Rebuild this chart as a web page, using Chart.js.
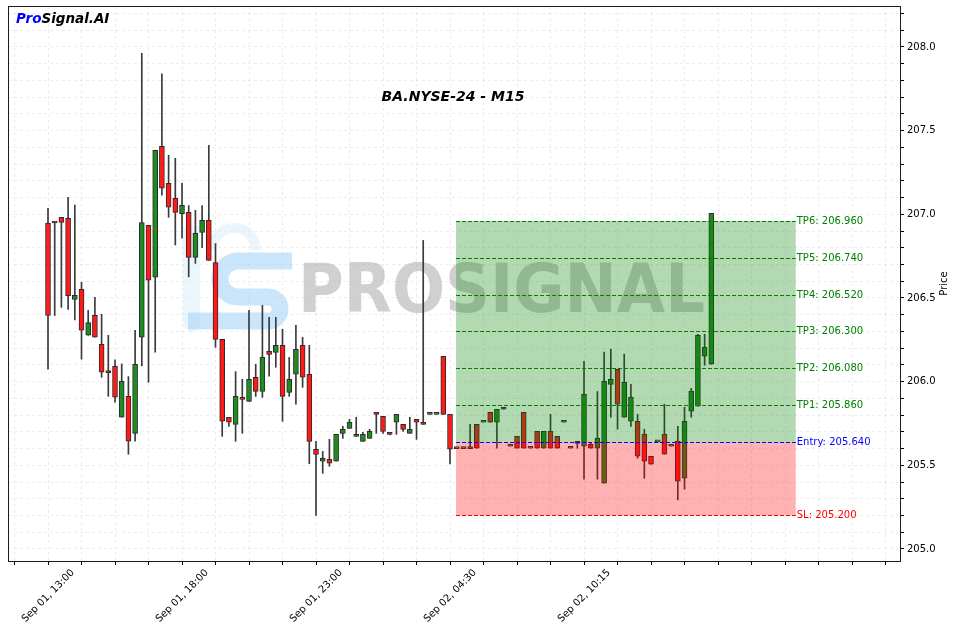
<!DOCTYPE html>
<html lang="en">
<head>
<meta charset="UTF-8">
<title>BA.NYSE-24 - M15</title>
<script src="https://cdn.jsdelivr.net/npm/chart.js"></script>
<style>
    html, body { margin: 0; padding: 0; background: #fff; }
    #wrap { width: 956px; height: 631px; }
</style>
</head>
<body>
<div id="wrap"><canvas id="priceChart" width="956" height="631"></canvas></div>
<script>
// 15-minute candles, index 0 = Sep 01 13:00 (gaps in trading time are skipped)
const opens = [
    206.948, 206.950, 206.982, 206.976, 206.492, 206.552, 206.277, 206.397, 206.223, 206.056,
    206.092, 205.787, 205.912, 205.691, 206.265, 206.934, 206.624, 207.407, 207.185, 207.096,
    207.004, 207.012, 206.743, 206.892, 206.964, 206.711, 206.253, 205.787, 205.745, 205.906,
    205.882, 206.026, 205.942, 206.181, 206.175, 206.217, 205.936, 206.044, 206.217, 206.044,
    205.595, 205.524, 205.536, 205.524, 205.691, 205.721, 205.673, 205.643, 205.661, 205.816,
    205.792, 205.686, 205.757, 205.745, 205.691, 205.775, 205.747, 205.804, 205.804, 206.151,
    205.805, 205.600, 205.600, 205.600, 205.745, 205.757, 205.817, 205.757, 205.847, 205.614,
    205.673, 205.817, 205.602, 205.703, 205.602, 205.703, 205.673, 205.757, 205.602, 205.631,
    205.614, 205.626, 205.602, 205.393, 205.984, 206.074, 205.787, 205.763, 205.763, 205.686,
    205.554, 205.640, 205.686, 205.614, 205.644, 205.423, 205.823, 205.853, 206.152, 206.104
];
const highs = [
    207.036, 206.952, 206.982, 207.102, 207.056, 206.594, 206.426, 206.504, 206.403, 206.277,
    206.130, 206.106, 206.030, 206.307, 207.962, 206.934, 207.383, 207.839, 207.353, 207.335,
    207.185, 207.052, 207.024, 207.052, 207.412, 206.825, 206.253, 205.787, 206.060, 206.014,
    206.426, 206.104, 206.456, 206.384, 206.384, 206.313, 206.145, 206.337, 206.265, 206.217,
    205.643, 205.583, 205.655, 205.685, 205.733, 205.775, 205.787, 205.697, 205.715, 205.816,
    205.792, 205.688, 205.804, 205.745, 205.787, 205.775, 206.844, 205.804, 205.804, 206.151,
    205.805, 205.600, 205.600, 205.745, 205.745, 205.757, 205.817, 205.835, 205.847, 205.614,
    205.673, 205.817, 205.602, 205.703, 205.703, 205.805, 205.673, 205.757, 205.602, 205.631,
    206.122, 205.632, 205.941, 206.176, 206.194, 206.074, 206.164, 205.984, 205.805, 205.716,
    205.554, 205.640, 205.865, 205.614, 205.733, 205.847, 205.959, 206.283, 206.283, 207.006
];
const lows = [
    206.074, 206.395, 206.444, 206.432, 206.369, 206.134, 206.277, 206.265, 206.026, 205.912,
    205.877, 205.787, 205.566, 205.644, 206.094, 205.996, 206.176, 207.114, 206.982, 206.817,
    206.857, 206.626, 206.707, 206.801, 206.725, 206.205, 205.673, 205.733, 205.643, 205.691,
    205.882, 205.912, 205.906, 206.032, 206.086, 205.763, 205.912, 205.865, 205.966, 205.510,
    205.201, 205.452, 205.494, 205.524, 205.661, 205.721, 205.673, 205.643, 205.661, 205.691,
    205.691, 205.682, 205.685, 205.703, 205.691, 205.655, 205.745, 205.804, 205.804, 205.804,
    205.508, 205.600, 205.600, 205.600, 205.602, 205.757, 205.757, 205.602, 205.835, 205.614,
    205.602, 205.602, 205.602, 205.602, 205.602, 205.602, 205.602, 205.757, 205.602, 205.602,
    205.417, 205.602, 205.417, 205.393, 205.787, 205.716, 205.787, 205.733, 205.542, 205.423,
    205.506, 205.640, 205.566, 205.614, 205.293, 205.357, 205.787, 205.853, 206.098, 206.104
];
const closes = [
    206.395, 206.948, 206.952, 206.514, 206.516, 206.307, 206.353, 206.265, 206.056, 206.054,
    205.907, 206.002, 205.644, 206.104, 206.950, 206.606, 207.383, 207.156, 207.042, 207.012,
    207.054, 206.743, 206.886, 206.964, 206.725, 206.253, 205.763, 205.757, 205.912, 205.894,
    206.014, 205.942, 206.145, 206.163, 206.217, 205.912, 206.014, 206.193, 206.026, 205.643,
    205.565, 205.542, 205.512, 205.685, 205.715, 205.757, 205.685, 205.685, 205.703, 205.804,
    205.703, 205.685, 205.804, 205.715, 205.715, 205.757, 205.745, 205.804, 205.804, 205.804,
    205.597, 205.600, 205.600, 205.600, 205.602, 205.757, 205.757, 205.835, 205.835, 205.614,
    205.602, 205.602, 205.602, 205.602, 205.703, 205.602, 205.602, 205.757, 205.602, 205.631,
    205.925, 205.602, 205.662, 206.002, 206.014, 205.865, 205.996, 205.907, 205.554, 205.524,
    205.506, 205.640, 205.566, 205.614, 205.405, 205.763, 205.943, 206.277, 206.206, 207.006
];

// x-axis labels (candle index -> text)
const tickIndexes = [0, 20, 40, 60, 80];
const tickLabels = ['Sep 01, 13:00', 'Sep 01, 18:00', 'Sep 01, 23:00', 'Sep 02, 04:30', 'Sep 02, 10:15'];

// trade levels
const levelNames = ['TP6', 'TP5', 'TP4', 'TP3', 'TP2', 'TP1', 'Entry', 'SL'];
const levelValues = [206.96, 206.74, 206.52, 206.30, 206.08, 205.86, 205.64, 205.20];
const zoneStart = 60.9;
const zoneEnd = 111.6;

const GREEN = '#1e8c1e';
const RED = '#ff1a1a';
const FONT = "'DejaVu Sans', sans-serif";

const idx = opens.map((_, i) => i);
const bodyColors = idx.map(i => closes[i] >= opens[i] ? GREEN : RED);

const overlay = {
    id: 'overlay',
    beforeDatasetsDraw(chart) {
        const c = chart.ctx;
        c.save();
        // logo mark
        c.fillStyle = 'rgba(200,228,250,0.35)';
        c.beginPath();
        c.moveTo(183, 226); c.lineTo(200, 226); c.lineTo(200, 325); c.lineTo(191.5, 333); c.lineTo(183, 325);
        c.closePath(); c.fill();
        c.strokeStyle = 'rgba(215,235,250,0.5)';
        c.lineWidth = 10;
        c.beginPath();
        c.arc(234, 250, 22, Math.PI, 0, false);
        c.stroke();
        c.strokeStyle = 'rgba(160,210,247,0.55)';
        c.lineWidth = 17;
        c.beginPath();
        c.moveTo(292, 261);
        c.lineTo(238, 261);
        c.arc(238, 279, 18, -Math.PI / 2, Math.PI / 2, true);
        c.lineTo(268, 297);
        c.arc(268, 309, 12, -Math.PI / 2, Math.PI / 2, false);
        c.lineTo(188, 321);
        c.stroke();
        // watermark text
        c.fillStyle = 'rgba(150,150,150,0.45)';
        c.font = 'bold 68px ' + FONT;
        c.textBaseline = 'alphabetic';
        c.textAlign = 'left';
        c.fillText('PROSIGNAL', 298, 312, 407);
        c.restore();
    },
    afterDatasetsDraw(chart) {
        const c = chart.ctx;
        const xs = chart.scales.x, ys = chart.scales.y;
        const x1 = xs.getPixelForValue(zoneStart);
        const x2 = xs.getPixelForValue(zoneEnd);
        const entry = levelValues[levelNames.indexOf('Entry')];
        const sl = levelValues[levelNames.indexOf('SL')];
        const tp = Math.max(...levelValues);
        c.save();
        c.fillStyle = 'rgba(0,128,0,0.3)';
        c.fillRect(x1, ys.getPixelForValue(tp), x2 - x1, ys.getPixelForValue(entry) - ys.getPixelForValue(tp));
        c.fillStyle = 'rgba(255,0,0,0.3)';
        c.fillRect(x1, ys.getPixelForValue(entry), x2 - x1, ys.getPixelForValue(sl) - ys.getPixelForValue(entry));
        c.lineWidth = 1;
        c.setLineDash([4, 2]);
        c.font = '10px ' + FONT;
        c.textBaseline = 'middle';
        c.textAlign = 'left';
        levelNames.forEach((name, k) => {
            const col = name === 'Entry' ? '#0000ff' : (name === 'SL' ? '#ff0000' : '#008000');
            const y = Math.round(ys.getPixelForValue(levelValues[k])) + 0.5;
            c.strokeStyle = col;
            c.beginPath();
            c.moveTo(x1, y);
            c.lineTo(x2, y);
            c.stroke();
            c.fillStyle = col;
            c.fillText(name + ': ' + levelValues[k].toFixed(3), x2 + 1, y);
        });
        c.restore();
    },
    afterDraw(chart) {
        const c = chart.ctx;
        const a = chart.chartArea;
        c.save();
        c.strokeStyle = '#1a1a1a';
        c.lineWidth = 1;
        c.strokeRect(a.left + 0.5, a.top + 0.5, a.right - a.left, a.bottom - a.top);
        // title
        c.fillStyle = '#000';
        c.font = 'italic bold 14px ' + FONT;
        c.textAlign = 'center';
        c.textBaseline = 'middle';
        c.fillText('BA.NYSE-24 - M15', 453, 97);
        // brand
        c.textAlign = 'left';
        c.font = 'italic bold 13.5px ' + FONT;
        c.fillStyle = '#0000ff';
        c.fillText('Pro', 16, 19);
        const w = c.measureText('Pro').width;
        c.fillStyle = '#000';
        c.fillText('Signal.AI', 16 + w, 19);
        // axis title
        c.font = '10px ' + FONT;
        c.translate(944, (a.top + a.bottom) / 2);
        c.rotate(-Math.PI / 2);
        c.textAlign = 'center';
        c.fillText('Price', 0, 0);
        c.restore();
    }
};

new Chart(document.getElementById('priceChart').getContext('2d'), {
    type: 'bar',
    data: {
        datasets: [
            {
                label: 'wick',
                data: idx.map(i => ({ x: i, y: [lows[i], highs[i]] })),
                backgroundColor: '#3a3a3a',
                borderWidth: 0,
                barThickness: 1,
                grouped: false,
                order: 2
            },
            {
                label: 'body',
                data: idx.map(i => ({ x: i, y: [opens[i], closes[i]] })),
                backgroundColor: bodyColors,
                borderColor: '#2b2b2b',
                borderWidth: 1,
                borderSkipped: false,
                barThickness: 5,
                minBarLength: 2,
                grouped: false,
                order: 1
            }
        ]
    },
    options: {
        responsive: false,
        animation: false,
        layout: { padding: { left: 8, top: 6, right: 0, bottom: 0 } },
        plugins: { legend: { display: false }, tooltip: { enabled: false } },
        scales: {
            x: {
                type: 'linear',
                min: -5.97,
                max: 127.16,
                offset: false,
                grid: { offset: false, color: 'rgba(0,0,0,0.07)', tickColor: '#000', tickLength: 4 },
                border: { display: false, dash: [3, 3] },
                ticks: {
                    stepSize: 5,
                    includeBounds: false,
                    autoSkip: false,
                    maxTicksLimit: 100,
                    minRotation: 45,
                    maxRotation: 45,
                    labelOffset: 25,
                    padding: 2,
                    color: '#000',
                    font: { family: FONT, size: 10 },
                    callback: v => {
                        const k = tickIndexes.indexOf(Math.round(v));
                        return k >= 0 ? tickLabels[k] : '';
                    }
                },
                afterFit(s) { s.height = 70; s.paddingLeft = 0; s.paddingRight = 0; }
            },
            y: {
                position: 'right',
                min: 204.928,
                max: 208.245,
                grid: { color: 'rgba(0,0,0,0.07)', tickColor: '#000', tickLength: 4 },
                border: { display: false, dash: [3, 3] },
                ticks: {
                    stepSize: 0.1,
                    includeBounds: false,
                    autoSkip: false,
                    maxTicksLimit: 100,
                    padding: 3,
                    color: '#000',
                    font: { family: FONT, size: 10 },
                    callback: v => {
                        const t = Math.round(v * 10);
                        return t % 5 === 0 ? (t / 10).toFixed(1) : '';
                    }
                },
                afterFit(s) { s.width = 56; s.paddingTop = 0; s.paddingBottom = 0; }
            }
        }
    },
    plugins: [overlay]
});
</script>
</body>
</html>
